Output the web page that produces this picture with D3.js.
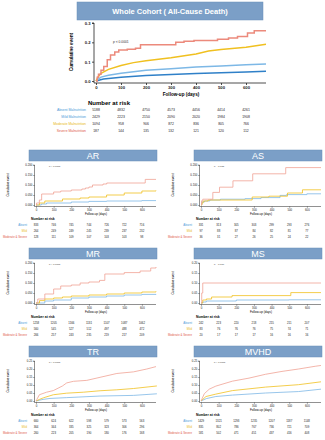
<!DOCTYPE html>
<html>
<head>
<meta charset="utf-8">
<script src="https://cdn.jsdelivr.net/npm/d3@7"></script>
<style>
body { margin: 0; background: #fff; }
svg { display: block; font-family: "Liberation Sans", Arial, sans-serif; }
</style>
</head>
<body>
<svg id="canvas" width="325" height="440"></svg>
<script>
// follow-up days where the number at risk is given
const riskDays = [0, 100, 200, 300, 400, 500, 600];
const wholeGroups = ["Absent Malnutrition", "Mild Malnutrition", "Moderate Malnutrition", "Severe Malnutrition"];
const valveGroups = ["Absent", "Mild", "Moderate & Severe"];

// whole cohort, [day, cumulative event]
const wholeAbsent = [[0,0],[30,0.01],[100,0.02],[200,0.028],[300,0.034],[400,0.039],[500,0.043],[600,0.047],[680,0.05]];
const wholeMild = [[0,0],[20,0.02],[50,0.03],[100,0.04],[200,0.055],[300,0.063],[400,0.072],[500,0.078],[600,0.084],[680,0.088]];
const wholeModerate = [[0,0],[10,0.025],[20,0.04],[50,0.06],[100,0.08],[150,0.095],[200,0.105],[300,0.12],[400,0.14],[450,0.155],[500,0.163],[600,0.175],[680,0.19]];
const wholeSevere = [[0,0],[5,0.02],[10,0.035],[20,0.055],[31,0.075],[45,0.11],[58,0.134],[75,0.15],[91,0.16],[125,0.164],[158,0.17],[178,0.187],[319,0.2],[352,0.205],[392,0.21],[486,0.216],[530,0.222],[566,0.23],[606,0.248],[633,0.26],[680,0.26]];
const wholeRisk = [
  [5188, 4832, 4750, 4573, 4456, 4414, 4261],
  [2429, 2223, 2150, 2090, 2020, 1984, 1908],
  [1094, 958, 906, 872, 836, 805, 766],
  [187, 144, 135, 132, 121, 120, 112]
];

// AR
const arAbsent = [[0,0],[30,0.005],[60,0.01],[200,0.015],[300,0.018],[400,0.02],[600,0.022],[680,0.022]];
const arMild = [[0,0],[20,0.01],[50,0.02],[150,0.03],[250,0.035],[300,0.04],[400,0.05],[500,0.06],[600,0.07],[680,0.072]];
const arSevere = [[0,0],[3,0.01],[19,0.025],[32,0.055],[100,0.065],[140,0.07],[200,0.075],[260,0.08],[280,0.085],[300,0.09],[320,0.1],[380,0.105],[401,0.11],[619,0.128],[680,0.128]];
const arRisk = [[833, 746, 745, 744, 726, 722, 716], [264, 249, 249, 245, 239, 237, 232], [128, 111, 109, 107, 103, 103, 98]];

// AS
const asAbsent = [[0,0],[5,0.015],[20,0.02],[50,0.025],[110,0.029],[250,0.032],[340,0.037],[448,0.048],[485,0.052],[600,0.056],[680,0.056]];
const asMild = [[0,0],[5,0.01],[12,0.02],[40,0.025],[290,0.04],[385,0.044],[490,0.06],[575,0.076],[680,0.076]];
const asSevere = [[0,0],[3,0.021],[10,0.029],[67,0.063],[105,0.089],[181,0.121],[293,0.156],[480,0.187],[680,0.187]];
const asRisk = [[331, 313, 305, 303, 299, 293, 276], [97, 88, 87, 84, 82, 81, 77], [36, 31, 27, 26, 25, 24, 22]];

// MR
const mrAbsent = [[0,0],[50,0.01],[100,0.015],[200,0.025],[300,0.03],[400,0.035],[500,0.04],[600,0.043],[680,0.045]];
const mrMild = [[0,0],[20,0.012],[50,0.02],[100,0.025],[150,0.03],[200,0.035],[300,0.04],[400,0.045],[500,0.05],[600,0.055],[680,0.058]];
const mrSevere = [[0,0],[10,0.02],[50,0.045],[100,0.07],[140,0.085],[200,0.09],[250,0.1],[300,0.105],[360,0.113],[390,0.145],[500,0.152],[590,0.16],[650,0.175],[680,0.18]];
const mrRisk = [[1258, 1205, 1166, 1131, 1107, 1087, 1062], [560, 545, 527, 512, 497, 488, 472], [266, 257, 243, 235, 219, 217, 209]];

// MS
const msAbsent = [[0,0],[10,0.005],[30,0.01],[200,0.015],[500,0.016],[680,0.016]];
const msMild = [[0,0],[10,0.015],[30,0.02],[60,0.03],[176,0.037],[509,0.052],[680,0.052]];
const msSevere = [[0,0],[4,0.05],[10,0.1],[680,0.1]];
const msRisk = [[242, 223, 220, 218, 215, 211, 207], [83, 76, 76, 76, 75, 74, 71], [20, 17, 17, 17, 16, 16, 16]];

// TR
const trAbsent = [[0,0],[40,0.01],[79,0.016],[174,0.021],[363,0.031],[552,0.035],[685,0.045]];
const trMild = [[0,0],[20,0.01],[42,0.02],[98,0.039],[174,0.049],[269,0.055],[363,0.064],[458,0.07],[552,0.078],[685,0.094]];
const trSevere = [[0,0],[5,0.01],[19,0.039],[60,0.055],[98,0.065],[150,0.094],[174,0.113],[212,0.123],[288,0.129],[363,0.148],[458,0.172],[552,0.182],[628,0.2],[680,0.215]];
const trRisk = [[660, 624, 622, 598, 579, 573, 563], [364, 344, 335, 325, 323, 306, 296], [260, 223, 205, 190, 180, 176, 168]];

// MVHD
const mvAbsent = [[0,0],[30,0.015],[84,0.028],[178,0.037],[366,0.05],[553,0.059],[680,0.074]];
const mvMild = [[0,0],[28,0.028],[84,0.043],[178,0.065],[366,0.087],[553,0.102],[680,0.12]];
const mvSevere = [[0,0],[19,0.046],[47,0.074],[84,0.093],[178,0.124],[272,0.143],[366,0.167],[459,0.185],[553,0.2],[647,0.217],[680,0.222]];
const mvRisk = [[1429, 1321, 1293, 1235, 1207, 1187, 1148], [835, 802, 786, 767, 736, 721, 709], [581, 502, 471, 451, 437, 416, 408]];

const headBlue = "#7b9fc7";
const colAbsent = "#2f80c8";
const colMild = "#7db8e6";
const colYellow = "#f0c020";
const colRed = "#ec8a7c";
const colRedLight = "#f0a294";

let canvas = d3.select("#canvas");

let drawHeader = (x, y, w, h, text, size, weight) => {
  canvas.append("rect")
    .attr("x", x).attr("y", y).attr("width", w).attr("height", h)
    .attr("fill", headBlue).attr("stroke", "#6a8fb8").attr("stroke-width", 0.5);
  canvas.append("text")
    .attr("x", x + w / 2).attr("y", y + h / 2)
    .attr("dy", "0.36em")
    .attr("text-anchor", "middle")
    .attr("fill", "white")
    .attr("font-size", size)
    .attr("font-weight", weight)
    .text(text);
};

let drawKM = (o) => {
  const g = canvas.append("g");
  const x = d3.scaleLinear().domain([0, 680]).range([o.x0, o.x1]);
  const y = d3.scaleLinear().domain([0, o.ymax]).range([o.yb, o.yt]);

  const xAxis = d3.axisBottom(x).tickValues(riskDays).tickSize(o.tick).tickSizeOuter(0).tickPadding(o.pad);
  const yAxis = d3.axisLeft(y).tickValues(d3.range(0, o.ymax + 1e-9, o.ystep)).tickFormat(d3.format(o.fmt))
    .tickSize(o.tick).tickSizeOuter(0).tickPadding(o.pad);

  const gx = g.append("g").attr("transform", `translate(0,${o.yb + o.gap})`).call(xAxis);
  const gy = g.append("g").attr("transform", `translate(${o.x0 - o.gap},0)`).call(yAxis);
  [gx, gy].forEach(a => {
    a.selectAll("path, line").attr("stroke", "#222").attr("stroke-width", o.axisW);
    a.selectAll("text").attr("font-size", o.tickFont).attr("font-weight", o.bold ? "bold" : "normal")
      .attr("fill", "#222").attr("font-family", "Liberation Sans, Arial, sans-serif");
  });
  gy.select(".domain").attr("d", `M${-o.tick},${o.yt}H0V${o.yb + o.gap}`);
  gx.select(".domain").attr("d", `M${o.x0 - o.gap},0H${o.x1}`);

  o.series.forEach(s => {
    g.append("path")
      .datum(s.data)
      .attr("fill", "none")
      .attr("stroke", s.color)
      .attr("stroke-width", o.lineW)
      .attr("d", d3.line().x(d => x(d[0])).y(d => y(d[1])).curve(s.step ? d3.curveStepAfter : d3.curveLinear));
  });

  g.append("text")
    .attr("transform", `translate(${o.ylabX},${(o.yt + o.yb) / 2}) rotate(-90)`)
    .attr("text-anchor", "middle")
    .attr("font-size", o.labFont).attr("font-weight", o.bold ? "bold" : "normal")
    .text("Cumulative event");
  g.append("text")
    .attr("x", (o.x0 + o.x1) / 2).attr("y", o.xlabY)
    .attr("text-anchor", "middle")
    .attr("font-size", o.labFont).attr("font-weight", o.bold ? "bold" : "normal")
    .text("Follow-up (days)");
  g.append("text")
    .attr("x", o.pX).attr("y", o.pY)
    .attr("font-size", o.pFont)
    .attr("fill", "#333")
    .text(o.p);

  // number at risk
  g.append("text")
    .attr("x", o.nX).attr("y", o.nY)
    .attr("font-size", o.nFont).attr("font-weight", "bold")
    .text("Number at risk");
  o.risk.forEach((row, i) => {
    const ry = o.rY + i * o.rStep;
    g.append("text")
      .attr("x", o.rLabX).attr("y", ry)
      .attr("text-anchor", "end")
      .attr("font-size", o.rFont)
      .attr("fill", o.series[i].label)
      .text(o.groups[i]);
    g.selectAll(null)
      .data(row)
      .enter()
      .append("text")
      .attr("x", (d, j) => x(riskDays[j]))
      .attr("y", ry)
      .attr("text-anchor", "middle")
      .attr("font-size", o.rFont)
      .attr("fill", "#222")
      .text(d => d);
  });
};

// whole cohort panel
drawHeader(77, 2, 186, 18, "Whole Cohort ( All-Cause Death)", 7.5, "bold");
drawKM({
  x0: 96, x1: 266, yb: 81, yt: 23, ymax: 0.3, ystep: 0.1, fmt: ".1f",
  gap: 2, tick: 2, pad: 1.5, axisW: 0.8, tickFont: 4.2, bold: true, lineW: 1.5,
  ylabX: 73, xlabY: 96, labFont: 4.6,
  pX: 113, pY: 43, pFont: 3.3, p: "p < 0.0001",
  nX: 88, nY: 105, nFont: 6, rY: 111, rStep: 7, rLabX: 86, rFont: 3.4,
  groups: wholeGroups, risk: wholeRisk,
  series: [
    { data: wholeAbsent, color: colAbsent, label: "#4a9ad8" },
    { data: wholeMild, color: colMild, label: "#4a9ad8" },
    { data: wholeModerate, color: colYellow, label: "#e8b818" },
    { data: wholeSevere, color: colRed, label: "#e05a4a", step: true }
  ]
});

// valve panels
const panels = [
  { name: "AR", col: 0, top: 150, ymax: 0.2, fmt: ".3f", p: "p < 0.0001", cur: [arAbsent, arMild, arSevere], risk: arRisk, step: true },
  { name: "AS", col: 1, top: 150, ymax: 0.2, fmt: ".3f", p: "p = 0.015", cur: [asAbsent, asMild, asSevere], risk: asRisk, step: true },
  { name: "MR", col: 0, top: 248, ymax: 0.2, fmt: ".3f", p: "p < 0.0001", cur: [mrAbsent, mrMild, mrSevere], risk: mrRisk, step: true },
  { name: "MS", col: 1, top: 248, ymax: 0.2, fmt: ".2f", p: "p = 0.016", cur: [msAbsent, msMild, msSevere], risk: msRisk, step: true },
  { name: "TR", col: 0, top: 346, ymax: 0.25, fmt: ".2f", p: "p < 0.0001", cur: [trAbsent, trMild, trSevere], risk: trRisk, step: false },
  { name: "MVHD", col: 1, top: 346, ymax: 0.25, fmt: ".2f", p: "p < 0.0001", cur: [mvAbsent, mvMild, mvSevere], risk: mvRisk, step: false }
];

panels.forEach(pn => {
  const cx = pn.col * 165;
  const hy = pn.top;
  drawHeader(cx + 29, hy, 128, 11, pn.name, 9, "normal");
  drawKM({
    x0: cx + 36, x1: cx + 156, yb: hy + 55, yt: hy + 15, ymax: pn.ymax, ystep: 0.05, fmt: pn.fmt,
    gap: 1.5, tick: 1.2, pad: 1, axisW: 0.5, tickFont: 2.8, bold: false, lineW: 0.8,
    ylabX: cx + 9, xlabY: hy + 65, labFont: 3,
    pX: cx + 49, pY: hy + 17, pFont: 2.4, p: pn.p,
    nX: cx + 31, nY: hy + 70, nFont: 3.4, rY: hy + 76, rStep: 5.8, rLabX: cx + 27, rFont: 2.8,
    groups: valveGroups, risk: pn.risk,
    series: [
      { data: pn.cur[0], color: colMild, label: "#4a9ad8", step: pn.step },
      { data: pn.cur[1], color: colYellow, label: "#e8b818", step: pn.step },
      { data: pn.cur[2], color: colRedLight, label: "#e05a4a", step: pn.step }
    ]
  });
});
</script>
</body>
</html>
